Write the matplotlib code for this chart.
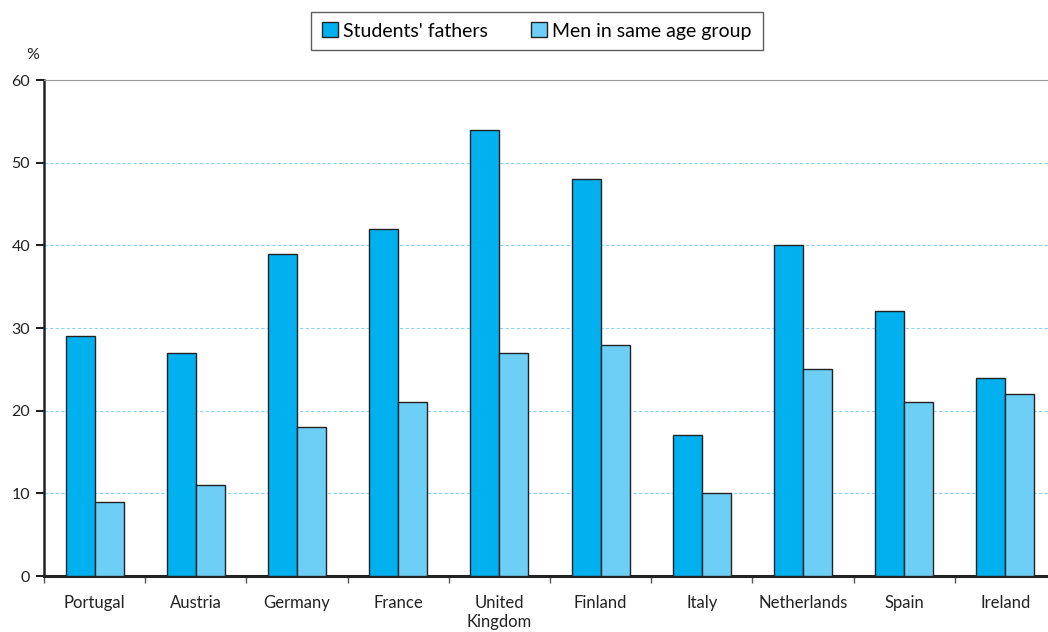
import numpy as np
import matplotlib
matplotlib.use("Agg")
import matplotlib.pyplot as plt

plt.rcParams['font.family'] = ['Lato', 'DejaVu Sans']

countries = ['Portugal', 'Austria', 'Germany', 'France', 'United\nKingdom',
             'Finland', 'Italy', 'Netherlands', 'Spain', 'Ireland']
fathers = [29, 27, 39, 42, 54, 48, 17, 40, 32, 24]
men_same_age = [9, 11, 18, 21, 27, 28, 10, 25, 21, 22]

dark_blue = '#00b0ef'
light_blue = '#6dcff6'

fig = plt.figure(figsize=(10.48, 6.32), dpi=100)
ax = fig.add_axes([44/1048, 56/632, 1012/1048, 496/632])

x = np.arange(len(countries))
w = 0.287
ax.bar(x - w/2, fathers, w, color=dark_blue, edgecolor='#222222',
       linewidth=1.0, label="Students' fathers", zorder=3)
ax.bar(x + w/2, men_same_age, w, color=light_blue, edgecolor='#222222',
       linewidth=1.0, label='Men in same age group', zorder=3)

ax.set_xlim(-0.5, len(countries) - 0.5)
ax.set_ylim(0, 60)
ax.set_yticks(range(0, 61, 10))
ax.yaxis.grid(True, color='#8fd3ef', linestyle=(0, (3, 2)), linewidth=0.8, zorder=0)

# category boundaries get the tick marks, names sit in between
ax.set_xticks(np.arange(-0.5, len(countries), 1.0))
ax.set_xticklabels([])
ax.set_xticks(x, minor=True)
ax.set_xticklabels(countries, minor=True, fontsize=12, color='#222222',
                   linespacing=1.2, va='top')
ax.tick_params(axis='x', which='minor', length=0, pad=14)
ax.tick_params(axis='x', which='major', length=5, width=1, color='#555555',
               direction='out')
ax.tick_params(axis='y', length=6, width=1.5, color='#222222', labelsize=11.5,
               labelcolor='#222222', pad=4)

ax.spines['right'].set_visible(False)
ax.spines['top'].set_color('#999999')
ax.spines['top'].set_linewidth(0.8)
ax.spines['left'].set_linewidth(1.8)
ax.spines['left'].set_color('#222222')
ax.spines['bottom'].set_linewidth(2.2)
ax.spines['bottom'].set_color('#222222')

fig.text(33/1048, 1 - 55/632, '%', fontsize=11.5, color='#222222',
         ha='center', va='center')

leg = fig.legend(loc='center', bbox_to_anchor=(537/1048, 1 - 31/632), ncol=2,
                 fontsize=14, frameon=True, fancybox=False, edgecolor='#333333',
                 handlelength=0.8, handleheight=0.8, handletextpad=0.3,
                 columnspacing=2.2, borderpad=0.55, borderaxespad=0)
leg.get_frame().set_linewidth(1.0)

fig.savefig('out.png', dpi=100)
